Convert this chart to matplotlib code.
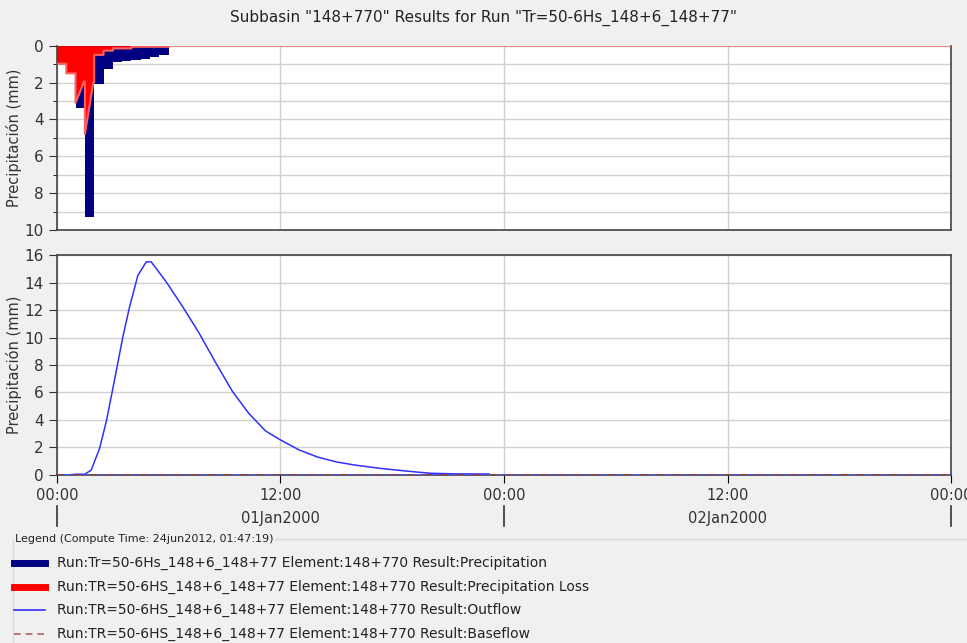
import matplotlib
matplotlib.use("Agg")
import matplotlib.pyplot as plt
from matplotlib.ticker import MultipleLocator

# precipitation (mm) per 30 min interval, hours 0-6
precip_start = [0.0, 0.5, 1.0, 1.5, 2.0, 2.5, 3.0, 3.5, 4.0, 4.5, 5.0, 5.5]
precip = [0.95, 1.5, 3.4, 9.3, 2.1, 1.28, 0.9, 0.85, 0.77, 0.7, 0.62, 0.5]

# precipitation loss outline (hours, mm)
loss_t = [0.0, 0.5, 0.5, 1.0, 1.0, 1.45, 1.5, 1.5, 1.95, 2.0, 2.0, 2.5, 2.5, 3.0, 3.0, 4.0, 4.0, 6.0, 6.0, 48.0]
loss_v = [0.98, 0.98, 1.5, 1.5, 3.1, 1.95, 1.95, 4.8, 2.0, 2.0, 0.5, 0.5, 0.27, 0.27, 0.15, 0.15, 0.06, 0.06, 0.0, 0.0]

# outflow (hours, value)
out_t = [0.7, 1.0, 1.5, 1.84, 2.29, 2.65, 3.09, 3.54, 3.9, 4.34, 4.79, 5.06, 5.86, 6.75,
         7.64, 8.54, 9.43, 10.3, 11.2, 12.0, 13.0, 14.0, 15.0, 16.0, 17.3, 18.2, 19.1, 20.1, 21.5, 23.2]
outflow = [0.02, 0.05, 0.06, 0.36, 1.94, 3.9, 6.9, 10.06, 12.24, 14.5, 15.5, 15.5, 14.06, 12.24,
           10.3, 8.12, 6.06, 4.48, 3.2, 2.55, 1.82, 1.3, 0.95, 0.72, 0.49, 0.36, 0.24, 0.12, 0.08, 0.07]

base_t = [0.0, 48.0]
baseflow = [0.0, 0.0]

xticks = [0, 12, 24, 36, 48]
xlabels = ["00:00", "12:00", "00:00", "12:00", "00:00"]
days = ["01Jan2000", "02Jan2000"]

navy = "#000080"
red = "#ff0000"
bg = "#f0f0f0"
grid = "#d0d0d0"

fig = plt.figure(figsize=(9.67, 6.43), dpi=100, facecolor=bg)
fig.text(0.5, 0.972, 'Subbasin "148+770" Results for Run "Tr=50-6Hs_148+6_148+77"',
         ha="center", va="center", fontsize=11, color="#222222")

ax1 = fig.add_axes([0.0589, 0.6423, 0.9246, 0.2867])
ax2 = fig.add_axes([0.0589, 0.2613, 0.9246, 0.3421])

# top: precipitation and loss (inverted)
ax1.bar(precip_start, precip, width=0.5, align="edge", color=navy, linewidth=0, zorder=2)
ax1.fill_between(loss_t, 0, loss_v, color=red, linewidth=0, zorder=3)
ax1.plot(loss_t, loss_v, color="#ff6060", lw=1.5, zorder=4)
ax1.set_ylim(10, 0)
ax1.set_xlim(0, 48)
ax1.yaxis.set_major_locator(MultipleLocator(2))
ax1.yaxis.set_minor_locator(MultipleLocator(1))
ax1.set_xticks(xticks)
ax1.grid(True, which="both", axis="y", color=grid, lw=1)
ax1.grid(True, which="major", axis="x", color=grid, lw=1)
ax1.set_ylabel("Precipitación (mm)", fontsize=10.5, color="#333333", labelpad=2)

# bottom: outflow
ax2.plot(out_t, outflow, color="#3030ff", lw=1.1, zorder=3)
ax2.plot(base_t, baseflow, color="#b03030", lw=1.2, ls=(0, (4, 6)), gapcolor="#5050ff", zorder=4)
ax2.set_ylim(0, 16)
ax2.set_xlim(0, 48)
ax2.yaxis.set_major_locator(MultipleLocator(2))
ax2.set_xticks(xticks)
ax2.set_xticklabels(xlabels, fontsize=10.5, color="#333333")
ax2.grid(True, which="major", color=grid, lw=1)
ax2.set_ylabel("Precipitación (mm)", fontsize=10.5, color="#333333", labelpad=2)

for ax in (ax1, ax2):
    ax.set_facecolor("white")
    ax.set_axisbelow(True)
    ax.tick_params(axis="y", which="major", length=6, labelsize=11, colors="#333333")
    ax.tick_params(axis="y", which="minor", length=3)
    for s in ax.spines.values():
        s.set_color("#444444")
        s.set_linewidth(1.2)
ax1.spines["top"].set_visible(False)
ax1.tick_params(axis="x", labelbottom=False, length=0)
ax2.tick_params(axis="x", which="major", length=6)

# day row below time ticks
for i, d in enumerate(days):
    xc = 12 + 24 * i
    ax2.annotate(d, xy=(xc, 0), xycoords=("data", "axes fraction"), xytext=(0, -31),
                 textcoords="offset points", ha="center", va="center", fontsize=10.5, color="#333333")
for xv in (0, 24, 48):
    xf = 0.0589 + 0.9246 * xv / 48
    fig.add_artist(plt.Line2D([xf, xf], [1 - 506 / 643, 1 - 526 / 643], color="#333333", lw=1.2))

# legend block
fig.add_artist(plt.Line2D([0.013, 1.0], [1 - 539 / 643, 1 - 539 / 643], color="#d8d8d8", lw=1))
fig.add_artist(plt.Line2D([0.013, 0.013], [1 - 539 / 643, 0], color="#d8d8d8", lw=1))
fig.text(0.016, 1 - 539 / 643, "Legend (Compute Time: 24jun2012, 01:47:19)", fontsize=8,
         va="center", ha="left", color="#222222",
         bbox=dict(facecolor=bg, edgecolor="none", pad=1))

entries = [
    ("Run:Tr=50-6Hs_148+6_148+77 Element:148+770 Result:Precipitation", navy, 5, "-"),
    ("Run:TR=50-6HS_148+6_148+77 Element:148+770 Result:Precipitation Loss", red, 5, "-"),
    ("Run:TR=50-6HS_148+6_148+77 Element:148+770 Result:Outflow", "#3030ff", 1.2, "-"),
    ("Run:TR=50-6HS_148+6_148+77 Element:148+770 Result:Baseflow", "#b06060", 1.2, (0, (4, 3))),
]
for k, (lab, col, lw, ls) in enumerate(entries):
    yy = 1 - (563 + 23.7 * k) / 643
    fig.add_artist(plt.Line2D([14 / 967, 45 / 967], [yy, yy], color=col, lw=lw, ls=ls))
    fig.text(57 / 967, yy, lab, fontsize=10, va="center", ha="left", color="#222222")

fig.savefig("out.png", dpi=100, facecolor=bg)
